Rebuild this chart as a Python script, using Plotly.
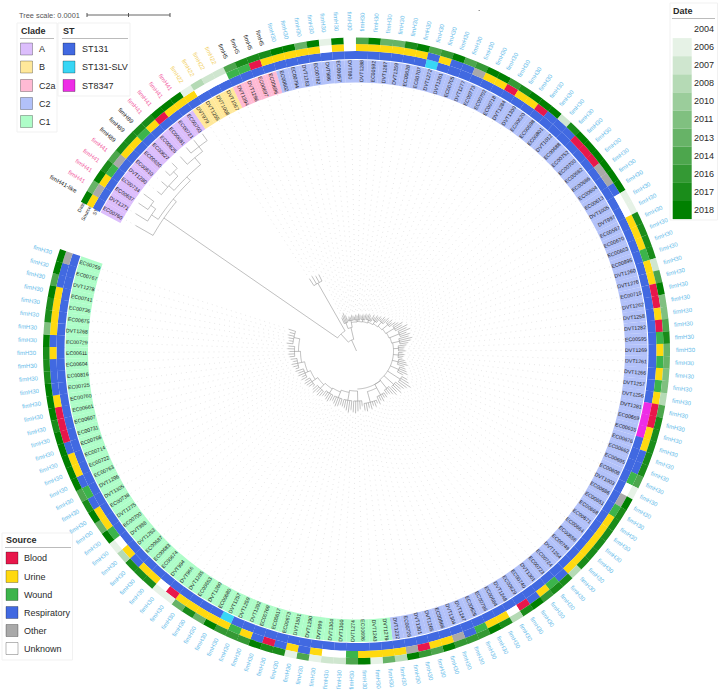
import math
import numpy as np
import plotly.graph_objects as go

W, H = 720, 691
CX, CY, RMAX = 356.5, 351.0, 335.0
THETA0, STEP = 299.6, 2.276
FONT = "Liberation Sans"

ids = """EC00760 DVT1371 EC00637 EC00734 DVT1280 EC00610 EC00630 EC00627 EC00625 EC00681 EC00721 EC00703
DVT979 DVT1255 DVT1008 DVT1067 DVT1394 DVT1296 EC00697 EC00696
EC00602 EC00794 DVT1263 EC00782 DVT986 EC00657 DVT980 DVT1288 EC00592 DVT1287 DVT1259 EC00628 EC00707 DVT1272 DVT1261 EC00705 DVT1277 EC00773
EC00702 EC00718 DVT1284 DVT1300 EC00620 EC00598 EC00801 DVT1012 EC00688 EC00752 EC00700 EC00682 EC00686 EC00604 EC00613 DVT1005 DVT997
EC00597 EC00670 EC00603 EC00895 DVT1260 DVT1276 EC00715 DVT1262 DVT1258 DVT1282 EC00595 DVT1269 DVT1261 DVT1266 DVT1257 DVT1256 DVT1281 EC00659 EC00635 EC00676
EC00662 EC00695 EC00608 DVT1003 EC00686 EC00651 EC00668 EC00671 EC00664 EC00656 EC00749 DVT1254 EC00724 EC00723 DVT1301 EC00740 EC00629 DVT1248 EC00684 EC00796
EC00626 DVT1247 DVT1304 EC00866 DVT1265 DVT1301 EC00726 DVT1232
DVT1279 DVT1243 EC00696 DVT1274 DVT1300 DVT1304 DVT999 DVT1290 DVT1501 EC00673 EC00617 EC00769 DVT1292 DVT1259
DVT1257 EC00680 DVT1260 EC00653 DVT1285 DVT966 DVT994 EC00674 EC00683 EC00687 DVT1253 DVT988 EC00700 DVT1275 EC00738 DVT1305 DVT1296
EC00763 EC00722 EC00714 EC00756 EC00731 EC00607 EC00661 EC00760 EC00725 EC00816 EC00604 EC00611 EC00729 DVT1268 EC00675 EC00736 EC00741 DVT1278 EC00767 EC00759""".split()

clade_counts = [("A", 12), ("B", 4), ("C2a", 4), ("C2", 83), ("C1", 51)]
fimh_runs = [("fimH41-like", 1), ("fimH41", 4), ("fimH89", 3), ("fimH41", 4), ("fimH22", 4), ("fimH5", 4), ("fimH30", 134)]

sources = """U O U W O U U W U B U U
U N N N W W B U
U U U U N U N U U U U U U R U R R O
U U B U U B R R R B B B O O R N N
U U U W U U B B U B W U W U W U B B U U
R R W N O W U U U U U U R W U R B N U U
W R O U U B O U
U U U W N N U R U R B R U W
U U U U U B N U U R U N W U U R W
R U U R B B B U R R R U R U U U U R R O""".split()

dates = [2018,2013,2018,2017,2014,2017,2017,2017,2017,2018,2018,2018,
2006,2008,2007,2007,2014,2017,2017,2017,
2018,2018,2013,2018,2006,2018,2004,2014,2018,2013,2013,2017,2018,2014,2016,2018,2014,2016,
2018,2018,2016,2017,2018,2018,2018,2007,2017,2018,2018,2018,2018,2018,2018,2006,2006,
2017,2017,2017,2017,2007,2014,2018,2011,2011,2014,2017,2013,2013,2011,2011,2008,2014,2017,2017,2017,
2017,2017,2014,2006,2018,2017,2017,2017,2017,2017,2017,2008,2017,2017,2016,2018,2017,2008,2017,2018,
2016,2016,2016,2018,2014,2016,2018,2008,
2013,2006,2018,2014,2007,2007,2006,2014,2006,2017,2017,2018,2016,2016,
2016,2018,2013,2017,2013,2006,2006,2017,2017,2017,2008,2006,2018,2013,2018,2017,2014,
2018,2018,2018,2018,2018,2017,2018,2018,2018,2017,2017,2017,2018,2011,2017,2017,2018,2014,2018,2018]

st_slv_leaves = [33, 117]
st8347_leaves = [71, 72, 73]

tips_a = [254,260,263,264,255,258,262,263,262,265,266,266]
tips_b = [86,87,85,85]
tips_c2a = [36,38,40,37]
tips_c2 = [33,35,34,36,35,34,36,35,37,36,35,37,36,38,37,39,38,36,40,38,41,
           40,42,41,44,43,46,44,47,45,48,
           50,54,52,57,55,58,53,56,54,57,
           55,52,50,48,47,49,46,48,47,46,
           49,51,53,50,52,54,56,52,58,61,
           65,62,60,58,61,57,59,56,54,53,
           55,54,57,55,58,56,59,57,60,58,61,60]
tips_c1 = [55,58,60,62,61,59,62,60,58,57,56,58,59,57,55,56,58,57,55,56,
           58,59,57,60,58,56,59,60,61,59,62,60,63,62,64,63,65,66,64,66,
           67,68,67,69,68,70,68,69,70,69,71]

tree_a = (234, 0, (238, (246, 1, (252, 2, 3)), (243, (250, 4, 5, (256, 6, 7)), (252, 8, (258, 9, 10, 11)))))
tree_b = (78, 12, 13, 14, 15)
tree_c2a = (30, 16, 17, 18, 19)

groups_c2 = [(20,24,31,29),(25,29,31,29.5),(30,33,32,30),(34,38,33,31),(39,42,35,32),(43,46,38,33),(47,50,41,34),
             (51,54,44,35),(55,58,46,36),(59,62,44,37),(63,66,42,37),(67,70,42,37),(71,74,43,37),(75,78,46,37),
             (79,82,52,37),(83,86,50,37),(87,90,48,38),(91,95,50,42),(96,102,53,46)]
groups_c1 = [(103,107,50,40),(108,112,50,42),(113,117,50,44),(118,122,50,45),(123,127,52,47),
             (128,132,54,50),(133,137,56,53),(138,142,60,56),(143,147,62,58),(148,153,64,60)]
trunk_depths = dict(root_node=12, upper_node=23, main_node=24)

clade_colors = {"A": "#DCBEFC", "B": "#FFE89A", "C2a": "#FFBAD4", "C2": "#B2C1F9", "C1": "#AEFDC8"}
st_colors = {"ST131": "#4169E1", "ST131-SLV": "#38D6F5", "ST8347": "#EE2CE6"}
source_colors = {"B": "#E8174B", "U": "#FFD90F", "W": "#3CB44B", "R": "#4169E1", "O": "#A9A9A9", "N": "#FFFFFF"}
source_names = [("Blood", "B"), ("Urine", "U"), ("Wound", "W"), ("Respiratory", "R"), ("Other", "O"), ("Unknown", "N")]
date_colors = {2004: "#FFFFFF", 2006: "#E6F2E6", 2007: "#CFE6CF", 2008: "#B5DAB5", 2010: "#9BCD9B", 2011: "#80C080",
               2013: "#67B367", 2014: "#4DA64D", 2016: "#349934", 2017: "#1A8C1A", 2018: "#008000"}
fimh_colors = {"fimH41-like": "#222222", "fimH41": "#F2619F", "fimH89": "#222222", "fimH22": "#F2CF63",
               "fimH5": "#222222", "fimH30": "#66BCEA"}

clades = [c for c, n in clade_counts for _ in range(n)]
fimh = [c for c, n in fimh_runs for _ in range(n)]
tips = tips_a + tips_b + tips_c2a + tips_c2 + tips_c1
N = len(ids)
assert N == len(clades) == len(fimh) == len(sources) == len(dates) == len(tips) == 154
sts = ["ST131"] * N
for i in st_slv_leaves:
    sts[i] = "ST131-SLV"
for i in st8347_leaves:
    sts[i] = "ST8347"
thetas = [THETA0 + i * STEP for i in range(N)]


def xy(r, th):
    a = math.radians(th)
    return (CX + r * math.sin(a)) / W, 1 - (CY - r * math.cos(a)) / H


fig = go.Figure()


def ring(colors, r0, r1):
    fig.add_trace(go.Barpolar(theta=thetas, r=[r1 - r0] * N, base=[r0] * N, width=[STEP + 0.03] * N,
                              marker=dict(color=colors, line=dict(width=0)), hoverinfo="skip", showlegend=False))


ring([clade_colors[c] for c in clades], 268.5, 291)
ring([st_colors[s] for s in sts], 292, 300)
ring([source_colors[s] for s in sources], 300, 307)
ring([date_colors[d] for d in dates], 307, 313.5)

gr, gt = [], []
for th, t in zip(thetas, tips):
    gr += [t, 268, None]
    gt += [th, th, None]
fig.add_trace(go.Scatterpolar(r=gr, theta=gt, mode="lines", line=dict(color="#E2E2E2", width=0.8, dash="1px,4px"),
                              hoverinfo="skip", showlegend=False))

tr, tt = [], []


def seg(r0, r1, th):
    tr.extend([r0, r1, None])
    tt.extend([th, th, None])


def arc(r, t0, t1):
    n = max(2, int(abs(t1 - t0)) + 2)
    for a in np.linspace(t0, t1, n):
        tr.append(r)
        tt.append(float(a))
    tr.append(None)
    tt.append(None)


def draw(node):
    if isinstance(node, int):
        return thetas[node], tips[node]
    depth = node[0]
    angs = []
    for ch in node[1:]:
        a, d = draw(ch)
        seg(depth, d, a)
        angs.append(a)
    arc(depth, min(angs), max(angs))
    return sum(angs) / len(angs), depth


def ladder(groups):
    prev = None
    for first, last, nd, sp in groups:
        arc(nd, thetas[first], thetas[last])
        for i in range(first, last + 1):
            seg(nd, tips[i], thetas[i])
        mid = (thetas[first] + thetas[last]) / 2
        seg(sp, nd, mid)
        if prev:
            arc(prev[1], prev[0], mid)
            seg(prev[1], sp, mid)
        prev = (mid, sp)
    return prev


ta, _ = draw(tree_a)
tb, _ = draw(tree_b)
tc, _ = draw(tree_c2a)
ladder(groups_c2)
ladder(groups_c1)
mid_c2_first = (thetas[groups_c2[0][0]] + thetas[groups_c2[0][1]]) / 2
mid_c1_first = (thetas[groups_c1[0][0]] + thetas[groups_c1[0][1]]) / 2
g = groups_c2[16]
arc(g[3], (thetas[g[0]] + thetas[g[1]]) / 2, mid_c1_first)
d = trunk_depths
seg(0, d["root_node"], 336)
arc(d["root_node"], (ta + tb) / 2, mid_c2_first - 3)
seg(d["root_node"], d["upper_node"], (ta + tb) / 2)
arc(d["upper_node"], ta, tb)
seg(d["upper_node"], tree_a[0], ta)
seg(d["upper_node"], tree_b[0], tb)
seg(d["root_node"], d["main_node"], mid_c2_first - 3)
arc(d["main_node"], tc, mid_c2_first)
seg(d["main_node"], tree_c2a[0], tc)
seg(d["main_node"], groups_c2[0][3], mid_c2_first)
fig.add_trace(go.Scatterpolar(r=tr, theta=tt, mode="lines", line=dict(color="#808080", width=0.5),
                              hoverinfo="skip", showlegend=False))

annotations, shapes = [], []


def text(x, y, s, size=9, color="#2A2A2A", bold=False, anchor="left", angle=0):
    annotations.append(dict(x=x / W, y=1 - y / H, xref="paper", yref="paper", text=f"<b>{s}</b>" if bold else s,
                            showarrow=False, xanchor=anchor, yanchor="middle", textangle=angle,
                            font=dict(family=FONT, size=size, color=color), borderpad=0, borderwidth=0))


def rect(x0, y0, x1, y1, fill, line="rgba(0,0,0,0.28)", lw=1):
    shapes.append(dict(type="rect", xref="paper", yref="paper", x0=x0 / W, x1=x1 / W, y0=1 - y0 / H, y1=1 - y1 / H,
                       fillcolor=fill, line=dict(color=line, width=lw)))


def hline(x0, x1, y, color="#BBBBBB", lw=1):
    shapes.append(dict(type="line", xref="paper", yref="paper", x0=x0 / W, x1=x1 / W, y0=1 - y / H, y1=1 - y / H,
                       line=dict(color=color, width=lw)))


def vline(x, y0, y1, color="#555555", lw=1):
    shapes.append(dict(type="line", xref="paper", yref="paper", x0=x / W, x1=x / W, y0=1 - y0 / H, y1=1 - y1 / H,
                       line=dict(color=color, width=lw)))


def polar_text(r, th, s, size, color):
    th = th % 360
    ang = th - 90 if th < 180 else th - 270
    x, y = xy(r, th)
    annotations.append(dict(x=x, y=y, xref="paper", yref="paper", text=s, showarrow=False, xanchor="center",
                            yanchor="middle", textangle=ang, font=dict(family=FONT, size=size, color=color)))


for i in range(N):
    w = 3.07 * len(ids[i])
    polar_text(290.5 - w / 2, thetas[i], ids[i], 5.2, "#222222")
    polar_text(319.5 + (3.17 * 6 if fimh[i] == "fimH30" else 3.2 * len(fimh[i])) / 2, thetas[i], fimh[i], 6, fimh_colors[fimh[i]])

for r, s in zip((296, 303.5, 310.5), ("ST", "Source", "Date")):
    w = 2.6 * len(s)
    a = math.radians(THETA0 - 1.1)
    x = CX + r * math.sin(a)
    y = CY - r * math.cos(a)
    text(x - w / 2 * math.cos(math.radians(62)), y + w / 2 * math.sin(math.radians(62)), s, size=5, anchor="center", angle=-62)

text(19, 15, "Tree scale: 0.0001", size=7.4, color="#555555")
hline(87, 170, 15, "#666666")
for x in (87, 128.5, 170):
    vline(x, 13, 17)

rect(17, 23, 57, 132, "rgba(255,255,255,0.9)", "#F1F1F1")
text(20.5, 31, "Clade", bold=True)
hline(20, 54, 38.5)
for name, y in zip(clade_colors, (49, 67, 85.5, 103.5, 121.5)):
    rect(20.5, y - 6, 32.5, y + 6, clade_colors[name])
    text(38.5, y, name)

rect(58, 23, 130, 96, "rgba(255,255,255,0.9)", "#F1F1F1")
text(62.5, 31, "ST", bold=True)
hline(62, 128, 38.5)
for name, y in zip(st_colors, (49, 67, 85.5)):
    rect(63, y - 6, 75, y + 6, st_colors[name])
    text(81.5, y, name)

rect(2, 533, 72.5, 660, "rgba(255,255,255,0.9)", "#F1F1F1")
text(6, 539.5, "Source", bold=True)
hline(5, 71, 547.5)
for (name, key), y in zip(source_names, (558, 576.5, 594.5, 612.5, 630.5, 648.5)):
    rect(6, y - 6, 18, y + 6, source_colors[key])
    text(24, y, name)

rect(670, 3, 717.5, 220, "rgba(255,255,255,0.9)", "#F1F1F1")
text(673, 10.5, "Date", bold=True)
hline(672, 715, 18.5)
for k, year in enumerate(date_colors):
    y0 = 20 + k * 18.1
    rect(672.7, y0, 691.7, y0 + 18.1, date_colors[year], date_colors[year], 0)
    text(694, y0 + 9, str(year))

shapes.append(dict(type="circle", xref="paper", yref="paper", x0=478.6 / W, x1=479.6 / W, y0=1 - 11 / H, y1=1 - 10 / H,
                   fillcolor="#333333", line=dict(width=0)))

fig.update_layout(
    width=W, height=H, margin=dict(l=0, r=0, t=0, b=0), autosize=False,
    paper_bgcolor="white", plot_bgcolor="white", showlegend=False,
    polar=dict(domain=dict(x=[(CX - RMAX) / W, (CX + RMAX) / W], y=[1 - (CY + RMAX) / H, 1 - (CY - RMAX) / H]),
               bgcolor="rgba(0,0,0,0)", barmode="overlay", bargap=0,
               radialaxis=dict(range=[0, RMAX], visible=False),
               angularaxis=dict(rotation=90, direction="clockwise", visible=False)),
    annotations=annotations, shapes=shapes,
)
fig.write_html("out.html", config=dict(displayModeBar=False),
               post_script="document.body.style.margin='0';document.body.style.overflow='hidden';")
